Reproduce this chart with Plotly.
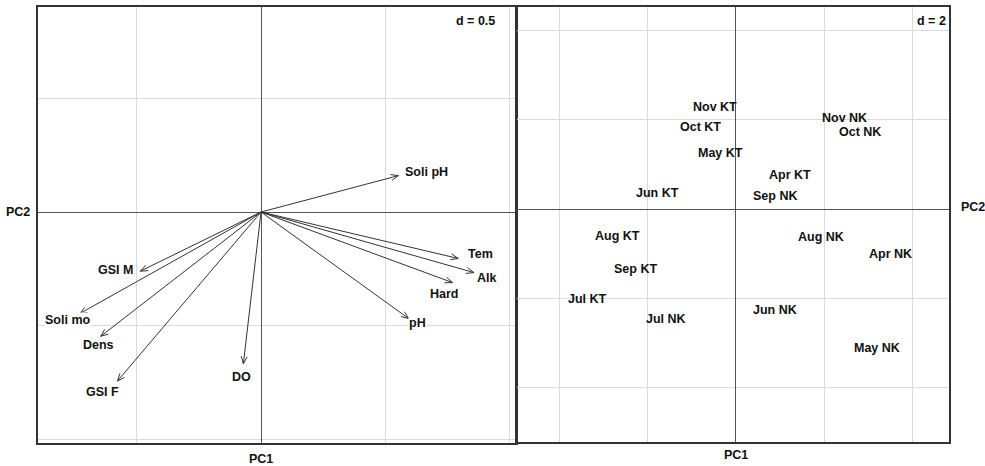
import numpy as np
import plotly.graph_objects as go

# ---------------- data ----------------
var_names = ["Soli pH", "Tem", "Alk", "Hard", "pH", "GSI M", "Soli mo", "Dens", "GSI F", "DO"]
var_pc1 = [0.552, 0.792, 0.855, 0.769, 0.593, -0.485, -0.728, -0.644, -0.577, -0.071]
var_pc2 = [0.160, -0.204, -0.266, -0.310, -0.468, -0.260, -0.446, -0.546, -0.743, -0.667]
var_lab_pc1 = [0.665, 0.880, 0.907, 0.735, 0.627, -0.586, -0.775, -0.651, -0.637, -0.080]
var_lab_pc2 = [0.176, -0.185, -0.291, -0.361, -0.488, -0.256, -0.476, -0.586, -0.790, -0.726]

site_names = ["Nov KT", "Oct KT", "May KT", "Jun KT", "Aug KT", "Sep KT", "Jul KT", "Jul NK",
              "Nov NK", "Oct NK", "Apr KT", "Sep NK", "Aug NK", "Apr NK", "Jun NK", "May NK"]
site_pc1 = [-0.476, -0.793, -0.362, -1.774, -2.688, -2.272, -3.368, -1.585,
            2.453, 2.809, 1.223, 0.883, 1.918, 3.488, 0.883, 3.200]
site_pc2 = [2.291, 1.843, 1.247, 0.352, -0.598, -1.350, -2.022, -2.470,
            2.031, 1.731, 0.761, 0.298, -0.634, -1.008, -2.262, -3.120]

# ---------------- layout constants ----------------
W, H = 985, 466
LX0, LX1, LY0, LY1 = 38.0, 515.7, 7.0, 443.0
RX0, RX1, RY0, RY1 = 517.3, 949.3, 7.0, 442.3
L_xr = [-0.896, 1.023]
L_yr = [-1.015, 0.901]
R_xr = [-4.953, 4.831]
R_yr = [-5.225, 4.524]

FONT = "Liberation Sans, Arial, sans-serif"
TXT = "#111111"
FS = 12.5

fig = go.Figure()

# pixel scale for left panel (used for arrowheads)
sx = (LX1 - LX0) / (L_xr[1] - L_xr[0])
sy = (LY1 - LY0) / (L_yr[1] - L_yr[0])

xs, ys = [], []
head_len = 8.0
ang = np.deg2rad(22)
for x, y in zip(var_pc1, var_pc2):
    xs += [0, x, None]
    ys += [0, y, None]
    dx, dy = x * sx, y * sy
    n = np.hypot(dx, dy)
    ux, uy = dx / n, dy / n
    for s in (1, -1):
        c, si = np.cos(s * ang), np.sin(s * ang)
        rx = ux * c - uy * si
        ry = ux * si + uy * c
        hx = x - head_len * rx / sx
        hy = y - head_len * ry / sy
        xs += [x, hx, None]
        ys += [y, hy, None]

fig.add_trace(go.Scatter(x=xs, y=ys, mode="lines", line=dict(color="#333333", width=1),
                         hoverinfo="skip", showlegend=False, xaxis="x", yaxis="y"))

fig.add_trace(go.Scatter(x=site_pc1, y=site_pc2, mode="markers", marker=dict(size=1, opacity=0),
                         hoverinfo="skip", showlegend=False, xaxis="x2", yaxis="y2"))

annotations = []
for name, x, y in zip(var_names, var_lab_pc1, var_lab_pc2):
    annotations.append(dict(x=x, y=y, xref="x", yref="y", text="<b>%s</b>" % name,
                            showarrow=False, font=dict(family=FONT, size=FS, color=TXT),
                            xanchor="center", yanchor="middle",
                            bgcolor="white", borderpad=0))
for name, x, y in zip(site_names, site_pc1, site_pc2):
    annotations.append(dict(x=x, y=y, xref="x2", yref="y2", text="<b>%s</b>" % name,
                            showarrow=False, font=dict(family=FONT, size=FS, color=TXT),
                            xanchor="center", yanchor="middle"))

def paper(px, py):
    return px / W, 1 - py / H

for txt, px, py in [("d = 0.5", 475, 21.5), ("d = 2", 931, 21.5),
                    ("PC1", 261, 459), ("PC2", 18, 212),
                    ("PC1", 736, 455), ("PC2", 973, 207)]:
    x, y = paper(px, py)
    annotations.append(dict(x=x, y=y, xref="paper", yref="paper", text="<b>%s</b>" % txt,
                            showarrow=False, font=dict(family=FONT, size=FS, color=TXT),
                            xanchor="center", yanchor="middle"))

axis_common = dict(showticklabels=False, ticks="", showgrid=True, gridcolor="#dadada", gridwidth=1,
                   zeroline=True, zerolinecolor="#555555", zerolinewidth=1.2,
                   showline=True, mirror=True, linecolor="#333333", linewidth=1.5,
                   fixedrange=True, tick0=0)

fig.update_layout(
    width=W, height=H, margin=dict(l=0, r=0, t=0, b=0),
    paper_bgcolor="white", plot_bgcolor="white", showlegend=False,
    xaxis=dict(domain=[LX0 / W, LX1 / W], range=L_xr, dtick=0.5, anchor="y", **axis_common),
    yaxis=dict(domain=[1 - LY1 / H, 1 - LY0 / H], range=L_yr, dtick=0.5, anchor="x", **axis_common),
    xaxis2=dict(domain=[RX0 / W, RX1 / W], range=R_xr, dtick=2, anchor="y2", **axis_common),
    yaxis2=dict(domain=[1 - RY1 / H, 1 - RY0 / H], range=R_yr, dtick=2, anchor="x2", **axis_common),
    annotations=annotations,
)

fig.write_html("out.html", config={"displayModeBar": False})

# remove the default page margin so the figure sits at the window origin
with open("out.html", "r", encoding="utf-8") as f:
    html = f.read()
html = html.replace("<body>", '<body style="margin:0;padding:0;overflow:hidden">', 1)
with open("out.html", "w", encoding="utf-8") as f:
    f.write(html)
